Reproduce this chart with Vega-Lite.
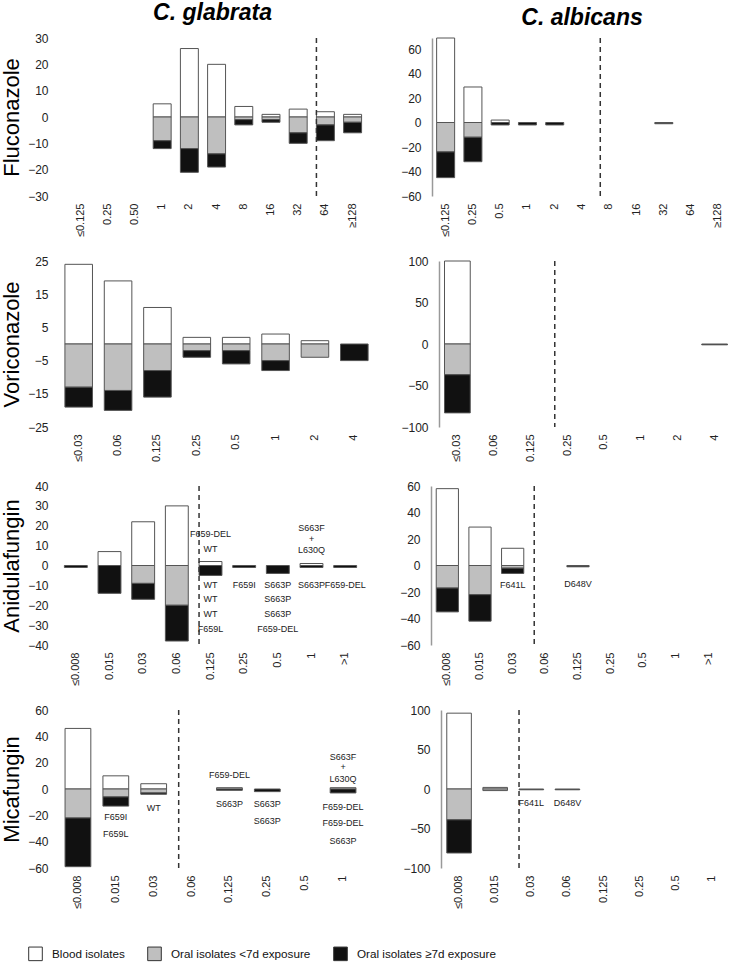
{
  "$schema": "https://vega.github.io/schema/vega-lite/v6.json",
  "padding": {"left": 0, "top": 2, "right": 0, "bottom": 0},
  "config": {
    "view": {"stroke": null},
    "font": "Liberation Sans",
    "axisX": {"labelAngle": -90, "labelPadding": 7, "ticks": false, "tickSize": 0, "domain": false, "grid": false, "labelFontSize": 11, "labelColor": "#222", "labelFont": "Liberation Sans"},
    "axisY": {"ticks": false, "tickSize": 0, "grid": false, "domain": false, "labelPadding": 11, "labelFontSize": 12, "labelColor": "#222", "labelFont": "Liberation Sans", "titleFontSize": 22, "titleFontWeight": "normal", "titleColor": "#000", "titleFont": "Liberation Sans"},
    "title": {"font": "Liberation Sans", "fontSize": 23, "fontWeight": "bold", "fontStyle": "italic", "color": "#000", "offset": 7},
    "text": {"font": "Liberation Sans", "fontSize": 9, "fill": "#222"}
  },
  "datasets": {
    "bars": [
      {"p":"FG","cat":"1","s":"Blood isolates","n":5},{"p":"FG","cat":"1","s":"Oral isolates <7d exposure","n":-9},{"p":"FG","cat":"1","s":"Oral isolates ≥7d exposure","n":-3},
      {"p":"FG","cat":"2","s":"Blood isolates","n":26},{"p":"FG","cat":"2","s":"Oral isolates <7d exposure","n":-12},{"p":"FG","cat":"2","s":"Oral isolates ≥7d exposure","n":-9},
      {"p":"FG","cat":"4","s":"Blood isolates","n":20},{"p":"FG","cat":"4","s":"Oral isolates <7d exposure","n":-14},{"p":"FG","cat":"4","s":"Oral isolates ≥7d exposure","n":-5},
      {"p":"FG","cat":"8","s":"Blood isolates","n":4},{"p":"FG","cat":"8","s":"Oral isolates <7d exposure","n":-1},{"p":"FG","cat":"8","s":"Oral isolates ≥7d exposure","n":-2},
      {"p":"FG","cat":"16","s":"Blood isolates","n":1},{"p":"FG","cat":"16","s":"Oral isolates <7d exposure","n":-1},{"p":"FG","cat":"16","s":"Oral isolates ≥7d exposure","n":-1},
      {"p":"FG","cat":"32","s":"Blood isolates","n":3},{"p":"FG","cat":"32","s":"Oral isolates <7d exposure","n":-6},{"p":"FG","cat":"32","s":"Oral isolates ≥7d exposure","n":-4},
      {"p":"FG","cat":"64","s":"Blood isolates","n":2},{"p":"FG","cat":"64","s":"Oral isolates <7d exposure","n":-3},{"p":"FG","cat":"64","s":"Oral isolates ≥7d exposure","n":-6},
      {"p":"FG","cat":"≥128","s":"Blood isolates","n":1},{"p":"FG","cat":"≥128","s":"Oral isolates <7d exposure","n":-2},{"p":"FG","cat":"≥128","s":"Oral isolates ≥7d exposure","n":-4},

      {"p":"FA","cat":"≤0.125","s":"Blood isolates","n":69},{"p":"FA","cat":"≤0.125","s":"Oral isolates <7d exposure","n":-24},{"p":"FA","cat":"≤0.125","s":"Oral isolates ≥7d exposure","n":-21},
      {"p":"FA","cat":"0.25","s":"Blood isolates","n":29},{"p":"FA","cat":"0.25","s":"Oral isolates <7d exposure","n":-12},{"p":"FA","cat":"0.25","s":"Oral isolates ≥7d exposure","n":-20},
      {"p":"FA","cat":"0.5","s":"Blood isolates","n":2},{"p":"FA","cat":"0.5","s":"Oral isolates ≥7d exposure","n":-2},
      {"p":"FA","cat":"1","s":"Oral isolates ≥7d exposure","n":-2},
      {"p":"FA","cat":"2","s":"Oral isolates ≥7d exposure","n":-2},
      {"p":"FA","cat":"32","s":"Oral isolates ≥7d exposure","n":-1},

      {"p":"VG","cat":"≤0.03","s":"Blood isolates","n":24},{"p":"VG","cat":"≤0.03","s":"Oral isolates <7d exposure","n":-13},{"p":"VG","cat":"≤0.03","s":"Oral isolates ≥7d exposure","n":-6},
      {"p":"VG","cat":"0.06","s":"Blood isolates","n":19},{"p":"VG","cat":"0.06","s":"Oral isolates <7d exposure","n":-14},{"p":"VG","cat":"0.06","s":"Oral isolates ≥7d exposure","n":-6},
      {"p":"VG","cat":"0.125","s":"Blood isolates","n":11},{"p":"VG","cat":"0.125","s":"Oral isolates <7d exposure","n":-8},{"p":"VG","cat":"0.125","s":"Oral isolates ≥7d exposure","n":-8},
      {"p":"VG","cat":"0.25","s":"Blood isolates","n":2},{"p":"VG","cat":"0.25","s":"Oral isolates <7d exposure","n":-2},{"p":"VG","cat":"0.25","s":"Oral isolates ≥7d exposure","n":-2},
      {"p":"VG","cat":"0.5","s":"Blood isolates","n":2},{"p":"VG","cat":"0.5","s":"Oral isolates <7d exposure","n":-2},{"p":"VG","cat":"0.5","s":"Oral isolates ≥7d exposure","n":-4},
      {"p":"VG","cat":"1","s":"Blood isolates","n":3},{"p":"VG","cat":"1","s":"Oral isolates <7d exposure","n":-5},{"p":"VG","cat":"1","s":"Oral isolates ≥7d exposure","n":-3},
      {"p":"VG","cat":"2","s":"Blood isolates","n":1},{"p":"VG","cat":"2","s":"Oral isolates <7d exposure","n":-4},
      {"p":"VG","cat":"4","s":"Oral isolates ≥7d exposure","n":-5},

      {"p":"VA","cat":"≤0.03","s":"Blood isolates","n":100},{"p":"VA","cat":"≤0.03","s":"Oral isolates <7d exposure","n":-37},{"p":"VA","cat":"≤0.03","s":"Oral isolates ≥7d exposure","n":-46},
      {"p":"VA","cat":"4","s":"Oral isolates ≥7d exposure","n":-1},

      {"p":"AG","cat":"≤0.008","s":"Oral isolates ≥7d exposure","n":-1},
      {"p":"AG","cat":"0.015","s":"Blood isolates","n":7},{"p":"AG","cat":"0.015","s":"Oral isolates ≥7d exposure","n":-14},
      {"p":"AG","cat":"0.03","s":"Blood isolates","n":22},{"p":"AG","cat":"0.03","s":"Oral isolates <7d exposure","n":-9},{"p":"AG","cat":"0.03","s":"Oral isolates ≥7d exposure","n":-8},
      {"p":"AG","cat":"0.06","s":"Blood isolates","n":30},{"p":"AG","cat":"0.06","s":"Oral isolates <7d exposure","n":-20},{"p":"AG","cat":"0.06","s":"Oral isolates ≥7d exposure","n":-18},
      {"p":"AG","cat":"0.125","s":"Blood isolates","n":2},{"p":"AG","cat":"0.125","s":"Oral isolates ≥7d exposure","n":-5},
      {"p":"AG","cat":"0.25","s":"Oral isolates ≥7d exposure","n":-1},
      {"p":"AG","cat":"0.5","s":"Oral isolates ≥7d exposure","n":-4},
      {"p":"AG","cat":"1","s":"Blood isolates","n":1},{"p":"AG","cat":"1","s":"Oral isolates ≥7d exposure","n":-1},
      {"p":"AG","cat":">1","s":"Oral isolates ≥7d exposure","n":-1},

      {"p":"AA","cat":"≤0.008","s":"Blood isolates","n":58},{"p":"AA","cat":"≤0.008","s":"Oral isolates <7d exposure","n":-17},{"p":"AA","cat":"≤0.008","s":"Oral isolates ≥7d exposure","n":-18},
      {"p":"AA","cat":"0.015","s":"Blood isolates","n":29},{"p":"AA","cat":"0.015","s":"Oral isolates <7d exposure","n":-22},{"p":"AA","cat":"0.015","s":"Oral isolates ≥7d exposure","n":-20},
      {"p":"AA","cat":"0.03","s":"Blood isolates","n":13},{"p":"AA","cat":"0.03","s":"Oral isolates <7d exposure","n":-2},{"p":"AA","cat":"0.03","s":"Oral isolates ≥7d exposure","n":-4},
      {"p":"AA","cat":"0.125","s":"Oral isolates ≥7d exposure","n":-1},

      {"p":"MG","cat":"≤0.008","s":"Blood isolates","n":46},{"p":"MG","cat":"≤0.008","s":"Oral isolates <7d exposure","n":-22},{"p":"MG","cat":"≤0.008","s":"Oral isolates ≥7d exposure","n":-37},
      {"p":"MG","cat":"0.015","s":"Blood isolates","n":10},{"p":"MG","cat":"0.015","s":"Oral isolates <7d exposure","n":-6},{"p":"MG","cat":"0.015","s":"Oral isolates ≥7d exposure","n":-7},
      {"p":"MG","cat":"0.03","s":"Blood isolates","n":4},{"p":"MG","cat":"0.03","s":"Oral isolates <7d exposure","n":-3},{"p":"MG","cat":"0.03","s":"Oral isolates ≥7d exposure","n":-1},
      {"p":"MG","cat":"0.125","s":"Blood isolates","n":1},{"p":"MG","cat":"0.125","s":"Oral isolates ≥7d exposure","n":-1},
      {"p":"MG","cat":"0.25","s":"Oral isolates ≥7d exposure","n":-2},
      {"p":"MG","cat":"1","s":"Blood isolates","n":1},{"p":"MG","cat":"1","s":"Oral isolates ≥7d exposure","n":-3},

      {"p":"MA","cat":"≤0.008","s":"Blood isolates","n":96},{"p":"MA","cat":"≤0.008","s":"Oral isolates <7d exposure","n":-39},{"p":"MA","cat":"≤0.008","s":"Oral isolates ≥7d exposure","n":-42},
      {"p":"MA","cat":"0.015","s":"Blood isolates","n":2},{"p":"MA","cat":"0.015","s":"Oral isolates <7d exposure","n":-2},
      {"p":"MA","cat":"0.03","s":"Oral isolates ≥7d exposure","n":-1},
      {"p":"MA","cat":"0.06","s":"Oral isolates ≥7d exposure","n":-1}
    ],
    "cuts": [
      {"p":"FG","cat":"64"},{"p":"FA","cat":"8"},{"p":"VA","cat":"0.25"},{"p":"AG","cat":"0.125"},{"p":"AA","cat":"0.06"},{"p":"MG","cat":"0.06"},{"p":"MA","cat":"0.03"}
    ],
    "labels": [
      {"p":"AG","cat":"0.125","y":15.6,"t":"F659-DEL"},{"p":"AG","cat":"0.125","y":8.2,"t":"WT"},
      {"p":"AG","cat":"0.125","y":-9.7,"t":"WT"},{"p":"AG","cat":"0.125","y":-16.9,"t":"WT"},{"p":"AG","cat":"0.125","y":-24.3,"t":"WT"},{"p":"AG","cat":"0.125","y":-31.7,"t":"F659L"},
      {"p":"AG","cat":"0.25","y":-9.7,"t":"F659I"},
      {"p":"AG","cat":"0.5","y":-9.7,"t":"S663P"},{"p":"AG","cat":"0.5","y":-16.9,"t":"S663P"},{"p":"AG","cat":"0.5","y":-24.3,"t":"S663P"},{"p":"AG","cat":"0.5","y":-31.7,"t":"F659-DEL"},
      {"p":"AG","cat":"1","y":19.1,"t":"S663F"},{"p":"AG","cat":"1","y":13.3,"t":"+"},{"p":"AG","cat":"1","y":7.9,"t":"L630Q"},{"p":"AG","cat":"1","y":-9.7,"t":"S663P"},
      {"p":"AG","cat":">1","y":-9.7,"t":"F659-DEL"},
      {"p":"AA","cat":"0.03","y":-14.8,"t":"F641L"},{"p":"AA","cat":"0.125","y":-13.6,"t":"D648V"},
      {"p":"MG","cat":"0.015","y":-21.5,"t":"F659I"},{"p":"MG","cat":"0.015","y":-34,"t":"F659L"},
      {"p":"MG","cat":"0.03","y":-14.4,"t":"WT"},
      {"p":"MG","cat":"0.125","y":10.9,"t":"F659-DEL"},{"p":"MG","cat":"0.125","y":-11.4,"t":"S663P"},
      {"p":"MG","cat":"0.25","y":-11.4,"t":"S663P"},{"p":"MG","cat":"0.25","y":-24.5,"t":"S663P"},
      {"p":"MG","cat":"1","y":24.5,"t":"S663F"},{"p":"MG","cat":"1","y":16.4,"t":"+"},{"p":"MG","cat":"1","y":7.3,"t":"L630Q"},
      {"p":"MG","cat":"1","y":-13.4,"t":"F659-DEL"},{"p":"MG","cat":"1","y":-26,"t":"F659-DEL"},{"p":"MG","cat":"1","y":-39.6,"t":"S663P"},
      {"p":"MA","cat":"0.03","y":-17.8,"t":"F641L"},{"p":"MA","cat":"0.06","y":-17.8,"t":"D648V"}
    ]
  },
  "spacing": 18,
  "vconcat": [
    {"spacing": 34, "hconcat": [
      {"width": 307, "height": 158, "title": "C. glabrata",
       "layer": [
        {"data": {"name": "bars"}, "transform": [{"filter": "datum.p === 'FG'"}], "mark": {"type": "bar", "stroke": "#555", "strokeWidth": 1},
         "encoding": {
          "x": {"field": "cat", "type": "nominal", "title": null, "sort": null, "scale": {"domain": ["≤0.125","0.25","0.50","1","2","4","8","16","32","64","≥128"], "paddingInner": 0.34, "paddingOuter": 0.3125, "align": 0.74}},
          "y": {"field": "n", "type": "quantitative", "stack": "zero", "title": "Fluconazole", "scale": {"domain": [-30, 30], "nice": false}, "axis": {"values": [-30,-20,-10,0,10,20,30], "tickCount": 20, "labelOverlap": false, "titlePadding": 4}},
          "fill": {"field": "s", "type": "nominal", "title": null, "scale": {"domain": ["Blood isolates","Oral isolates <7d exposure","Oral isolates ≥7d exposure"], "range": ["#ffffff","#bfbfbf","#111111"]},
                   "legend": {"orient": "none", "legendX": -31, "legendY": 908, "direction": "horizontal", "symbolType": "square", "symbolSize": 185, "symbolStrokeColor": "#333", "symbolStrokeWidth": 1, "labelFontSize": 11.7, "labelFont": "Liberation Sans", "labelColor": "#111", "labelOffset": 9, "columnPadding": 20}},
          "order": {"field": "s", "sort": "ascending"}
         }},
        {"data": {"name": "cuts"}, "transform": [{"filter": "datum.p === 'FG'"}], "mark": {"type": "rule", "strokeDash": [5, 4], "strokeWidth": 1.5, "color": "#333"},
         "encoding": {"x": {"field": "cat", "type": "nominal", "bandPosition": 0}}},
        {"mark": {"type": "rule", "color": "#000", "strokeWidth": 1}, "encoding": {"y": {"datum": 0}}}
       ]},
      {"width": 300, "height": 158, "title": "C. albicans",
       "layer": [
        {"data": {"name": "bars"}, "transform": [{"filter": "datum.p === 'FA'"}], "mark": {"type": "bar", "stroke": "#555", "strokeWidth": 1},
         "encoding": {
          "x": {"field": "cat", "type": "nominal", "title": null, "sort": null, "scale": {"domain": ["≤0.125","0.25","0.5","1","2","4","8","16","32","64","≥128"], "paddingInner": 0.34, "paddingOuter": 0.17}},
          "y": {"field": "n", "type": "quantitative", "stack": "zero", "title": null, "scale": {"domain": [-60, 69], "nice": false}, "axis": {"values": [-60,-40,-20,0,20,40,60], "tickCount": 20, "labelOverlap": false, "domain": true, "domainColor": "#999", "domainWidth": 1.5}},
          "fill": {"field": "s", "type": "nominal", "title": null, "scale": {"domain": ["Blood isolates","Oral isolates <7d exposure","Oral isolates ≥7d exposure"], "range": ["#ffffff","#bfbfbf","#111111"]},
                   "legend": {"orient": "none", "legendX": -31, "legendY": 908, "direction": "horizontal", "symbolType": "square", "symbolSize": 185, "symbolStrokeColor": "#333", "symbolStrokeWidth": 1, "labelFontSize": 11.7, "labelFont": "Liberation Sans", "labelColor": "#111", "labelOffset": 9, "columnPadding": 20}},
          "order": {"field": "s", "sort": "ascending"}
         }},
        {"data": {"name": "cuts"}, "transform": [{"filter": "datum.p === 'FA'"}], "mark": {"type": "rule", "strokeDash": [5, 4], "strokeWidth": 1.5, "color": "#333"},
         "encoding": {"x": {"field": "cat", "type": "nominal", "bandPosition": 0}}},
        {"mark": {"type": "rule", "color": "#777", "strokeWidth": 1.2}, "encoding": {"y": {"datum": 0}}}
       ]}
    ]},
    {"spacing": 26, "hconcat": [
      {"width": 315, "height": 166,
       "layer": [
        {"data": {"name": "bars"}, "transform": [{"filter": "datum.p === 'VG'"}], "mark": {"type": "bar", "stroke": "#555", "strokeWidth": 1},
         "encoding": {
          "x": {"field": "cat", "type": "nominal", "title": null, "sort": null, "scale": {"domain": ["≤0.03","0.06","0.125","0.25","0.5","1","2","4"], "paddingInner": 0.3, "paddingOuter": 0.15}},
          "y": {"field": "n", "type": "quantitative", "stack": "zero", "title": "Voriconazole", "scale": {"domain": [-25, 25], "nice": false}, "axis": {"values": [-25,-15,-5,5,15,25], "tickCount": 20, "labelOverlap": false, "titlePadding": 4}},
          "fill": {"field": "s", "type": "nominal", "title": null, "scale": {"domain": ["Blood isolates","Oral isolates <7d exposure","Oral isolates ≥7d exposure"], "range": ["#ffffff","#bfbfbf","#111111"]},
                   "legend": {"orient": "none", "legendX": -31, "legendY": 908, "direction": "horizontal", "symbolType": "square", "symbolSize": 185, "symbolStrokeColor": "#333", "symbolStrokeWidth": 1, "labelFontSize": 11.7, "labelFont": "Liberation Sans", "labelColor": "#111", "labelOffset": 9, "columnPadding": 20}},
          "order": {"field": "s", "sort": "ascending"}
         }},
        {"mark": {"type": "rule", "color": "#000", "strokeWidth": 1}, "encoding": {"y": {"datum": 0}}}
       ]},
      {"width": 294, "height": 166,
       "layer": [
        {"data": {"name": "bars"}, "transform": [{"filter": "datum.p === 'VA'"}], "mark": {"type": "bar", "stroke": "#555", "strokeWidth": 1},
         "encoding": {
          "x": {"field": "cat", "type": "nominal", "title": null, "sort": null, "scale": {"domain": ["≤0.03","0.06","0.125","0.25","0.5","1","2","4"], "paddingInner": 0.3, "paddingOuter": 0.15}},
          "y": {"field": "n", "type": "quantitative", "stack": "zero", "title": null, "scale": {"domain": [-100, 100], "nice": false}, "axis": {"values": [-100,-50,0,50,100], "tickCount": 20, "labelOverlap": false, "domain": true, "domainColor": "#999", "domainWidth": 1.5}},
          "fill": {"field": "s", "type": "nominal", "title": null, "scale": {"domain": ["Blood isolates","Oral isolates <7d exposure","Oral isolates ≥7d exposure"], "range": ["#ffffff","#bfbfbf","#111111"]},
                   "legend": {"orient": "none", "legendX": -31, "legendY": 908, "direction": "horizontal", "symbolType": "square", "symbolSize": 185, "symbolStrokeColor": "#333", "symbolStrokeWidth": 1, "labelFontSize": 11.7, "labelFont": "Liberation Sans", "labelColor": "#111", "labelOffset": 9, "columnPadding": 20}},
          "order": {"field": "s", "sort": "ascending"}
         }},
        {"data": {"name": "cuts"}, "transform": [{"filter": "datum.p === 'VA'"}], "mark": {"type": "rule", "strokeDash": [5, 4], "strokeWidth": 1.5, "color": "#333"},
         "encoding": {"x": {"field": "cat", "type": "nominal", "bandPosition": 0}}},
        {"mark": {"type": "rule", "color": "#ccc", "strokeWidth": 1}, "encoding": {"y": {"datum": 0}}}
       ]}
    ]},
    {"spacing": 33, "hconcat": [
      {"width": 303, "height": 159,
       "layer": [
        {"data": {"name": "bars"}, "transform": [{"filter": "datum.p === 'AG'"}], "mark": {"type": "bar", "stroke": "#555", "strokeWidth": 1},
         "encoding": {
          "x": {"field": "cat", "type": "nominal", "title": null, "sort": null, "scale": {"domain": ["≤0.008","0.015","0.03","0.06","0.125","0.25","0.5","1",">1"], "paddingInner": 0.32, "paddingOuter": 0.16}},
          "y": {"field": "n", "type": "quantitative", "stack": "zero", "title": "Anidulafungin", "scale": {"domain": [-40, 40], "nice": false}, "axis": {"values": [-40,-30,-20,-10,0,10,20,30,40], "tickCount": 20, "labelOverlap": false, "titlePadding": 4}},
          "fill": {"field": "s", "type": "nominal", "title": null, "scale": {"domain": ["Blood isolates","Oral isolates <7d exposure","Oral isolates ≥7d exposure"], "range": ["#ffffff","#bfbfbf","#111111"]},
                   "legend": {"orient": "none", "legendX": -31, "legendY": 908, "direction": "horizontal", "symbolType": "square", "symbolSize": 185, "symbolStrokeColor": "#333", "symbolStrokeWidth": 1, "labelFontSize": 11.7, "labelFont": "Liberation Sans", "labelColor": "#111", "labelOffset": 9, "columnPadding": 20}},
          "order": {"field": "s", "sort": "ascending"}
         }},
        {"data": {"name": "cuts"}, "transform": [{"filter": "datum.p === 'AG'"}], "mark": {"type": "rule", "strokeDash": [5, 4], "strokeWidth": 1.5, "color": "#333"},
         "encoding": {"x": {"field": "cat", "type": "nominal", "bandPosition": 0}}},
        {"mark": {"type": "rule", "color": "#000", "strokeWidth": 1}, "encoding": {"y": {"datum": 0}}},
        {"data": {"name": "labels"}, "transform": [{"filter": "datum.p === 'AG'"}], "mark": {"type": "text"},
         "encoding": {"x": {"field": "cat", "type": "nominal"}, "y": {"field": "y", "type": "quantitative"}, "text": {"field": "t"}}}
       ]},
      {"width": 294, "height": 159,
       "layer": [
        {"data": {"name": "bars"}, "transform": [{"filter": "datum.p === 'AA'"}], "mark": {"type": "bar", "stroke": "#555", "strokeWidth": 1},
         "encoding": {
          "x": {"field": "cat", "type": "nominal", "title": null, "sort": null, "scale": {"domain": ["≤0.008","0.015","0.03","0.06","0.125","0.25","0.5","1",">1"], "paddingInner": 0.32, "paddingOuter": 0.16}},
          "y": {"field": "n", "type": "quantitative", "stack": "zero", "title": null, "scale": {"domain": [-60, 60], "nice": false}, "axis": {"values": [-60,-40,-20,0,20,40,60], "tickCount": 20, "labelOverlap": false, "domain": true, "domainColor": "#999", "domainWidth": 1.5}},
          "fill": {"field": "s", "type": "nominal", "title": null, "scale": {"domain": ["Blood isolates","Oral isolates <7d exposure","Oral isolates ≥7d exposure"], "range": ["#ffffff","#bfbfbf","#111111"]},
                   "legend": {"orient": "none", "legendX": -31, "legendY": 908, "direction": "horizontal", "symbolType": "square", "symbolSize": 185, "symbolStrokeColor": "#333", "symbolStrokeWidth": 1, "labelFontSize": 11.7, "labelFont": "Liberation Sans", "labelColor": "#111", "labelOffset": 9, "columnPadding": 20}},
          "order": {"field": "s", "sort": "ascending"}
         }},
        {"data": {"name": "cuts"}, "transform": [{"filter": "datum.p === 'AA'"}], "mark": {"type": "rule", "strokeDash": [5, 4], "strokeWidth": 1.5, "color": "#333"},
         "encoding": {"x": {"field": "cat", "type": "nominal", "bandPosition": 0}}},
        {"mark": {"type": "rule", "color": "#000", "strokeWidth": 1}, "encoding": {"y": {"datum": 0}}},
        {"data": {"name": "labels"}, "transform": [{"filter": "datum.p === 'AA'"}], "mark": {"type": "text"},
         "encoding": {"x": {"field": "cat", "type": "nominal"}, "y": {"field": "y", "type": "quantitative"}, "text": {"field": "t"}}}
       ]}
    ]},
    {"spacing": 38, "hconcat": [
      {"width": 303, "height": 158,
       "layer": [
        {"data": {"name": "bars"}, "transform": [{"filter": "datum.p === 'MG'"}], "mark": {"type": "bar", "stroke": "#555", "strokeWidth": 1},
         "encoding": {
          "x": {"field": "cat", "type": "nominal", "title": null, "sort": null, "scale": {"domain": ["≤0.008","0.015","0.03","0.06","0.125","0.25","0.5","1"], "paddingInner": 0.32, "paddingOuter": 0.16}},
          "y": {"field": "n", "type": "quantitative", "stack": "zero", "title": "Micafungin", "scale": {"domain": [-60, 60], "nice": false}, "axis": {"values": [-60,-40,-20,0,20,40,60], "tickCount": 20, "labelOverlap": false, "titlePadding": 4}},
          "fill": {"field": "s", "type": "nominal", "title": null, "scale": {"domain": ["Blood isolates","Oral isolates <7d exposure","Oral isolates ≥7d exposure"], "range": ["#ffffff","#bfbfbf","#111111"]},
                   "legend": {"orient": "none", "legendX": -31, "legendY": 908, "direction": "horizontal", "symbolType": "square", "symbolSize": 185, "symbolStrokeColor": "#333", "symbolStrokeWidth": 1, "labelFontSize": 11.7, "labelFont": "Liberation Sans", "labelColor": "#111", "labelOffset": 9, "columnPadding": 20}},
          "order": {"field": "s", "sort": "ascending"}
         }},
        {"data": {"name": "cuts"}, "transform": [{"filter": "datum.p === 'MG'"}], "mark": {"type": "rule", "strokeDash": [5, 4], "strokeWidth": 1.5, "color": "#333"},
         "encoding": {"x": {"field": "cat", "type": "nominal", "bandPosition": 0}}},
        {"mark": {"type": "rule", "color": "#666", "strokeWidth": 1.2}, "encoding": {"y": {"datum": 0}}},
        {"data": {"name": "labels"}, "transform": [{"filter": "datum.p === 'MG'"}], "mark": {"type": "text"},
         "encoding": {"x": {"field": "cat", "type": "nominal"}, "y": {"field": "y", "type": "quantitative"}, "text": {"field": "t"}}}
       ]},
      {"width": 289, "height": 158,
       "layer": [
        {"data": {"name": "bars"}, "transform": [{"filter": "datum.p === 'MA'"}], "mark": {"type": "bar", "stroke": "#555", "strokeWidth": 1},
         "encoding": {
          "x": {"field": "cat", "type": "nominal", "title": null, "sort": null, "scale": {"domain": ["≤0.008","0.015","0.03","0.06","0.125","0.25","0.5","1"], "paddingInner": 0.32, "paddingOuter": 0.16}},
          "y": {"field": "n", "type": "quantitative", "stack": "zero", "title": null, "scale": {"domain": [-100, 100], "nice": false}, "axis": {"values": [-100,-50,0,50,100], "tickCount": 20, "labelOverlap": false, "domain": true, "domainColor": "#999", "domainWidth": 1.5}},
          "fill": {"field": "s", "type": "nominal", "title": null, "scale": {"domain": ["Blood isolates","Oral isolates <7d exposure","Oral isolates ≥7d exposure"], "range": ["#ffffff","#bfbfbf","#111111"]},
                   "legend": {"orient": "none", "legendX": -31, "legendY": 908, "direction": "horizontal", "symbolType": "square", "symbolSize": 185, "symbolStrokeColor": "#333", "symbolStrokeWidth": 1, "labelFontSize": 11.7, "labelFont": "Liberation Sans", "labelColor": "#111", "labelOffset": 9, "columnPadding": 20}},
          "order": {"field": "s", "sort": "ascending"}
         }},
        {"data": {"name": "cuts"}, "transform": [{"filter": "datum.p === 'MA'"}], "mark": {"type": "rule", "strokeDash": [5, 4], "strokeWidth": 1.5, "color": "#333"},
         "encoding": {"x": {"field": "cat", "type": "nominal", "bandPosition": 0}}},
        {"mark": {"type": "rule", "color": "#777", "strokeWidth": 1.2}, "encoding": {"y": {"datum": 0}}},
        {"data": {"name": "labels"}, "transform": [{"filter": "datum.p === 'MA'"}], "mark": {"type": "text"},
         "encoding": {"x": {"field": "cat", "type": "nominal"}, "y": {"field": "y", "type": "quantitative"}, "text": {"field": "t"}}}
       ]}
    ]}
  ]
}
